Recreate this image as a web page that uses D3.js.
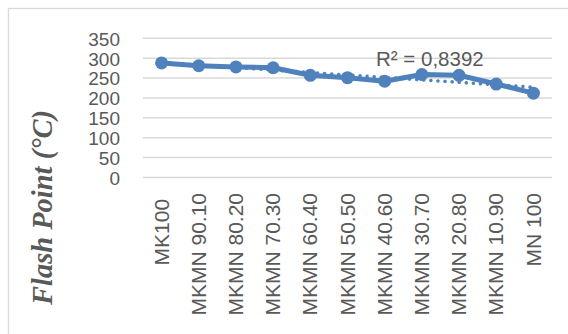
<!DOCTYPE html>
<html>
<head>
<meta charset="utf-8">
<script src="https://cdn.jsdelivr.net/npm/d3@7"></script>
<style>
  html, body { margin: 0; padding: 0; background: #fff; }
  svg { display: block; }
</style>
</head>
<body>
<svg id="chart" width="568" height="334"></svg>
<script>
// Flash point of MK/MN blends
const categories = ["MK100 ", "MKMN 90.10", "MKMN 80.20", "MKMN 70.30", "MKMN 60.40", "MKMN 50.50",
                    "MKMN 40.60", "MKMN 30.70", "MKMN 20.80", "MKMN 10.90", "MN 100"];
const flashPoint = [288, 281, 278, 276, 257, 251, 242, 259, 257, 235, 212];
const yTicks = [0, 50, 100, 150, 200, 250, 300, 350];
const trendLabel = "R² = 0,8392";
const yTitle = "Flash Point (°C)";

const svg = d3.select("#chart");
const grey = "#595959";
const blue = "#4F81BD";

// outer chart-area frame
svg.append("rect")
  .attr("x", 8.5).attr("y", 8.5)
  .attr("width", 580).attr("height", 340)
  .attr("fill", "none").attr("stroke", "#d9d9d9").attr("stroke-width", 1.3);

const plot = { left: 143, right: 552, top: 38.3, bottom: 177.5 };

const x = d3.scaleBand().domain(categories).range([plot.left, plot.right]).padding(0);
const y = d3.scaleLinear().domain([0, 350]).range([plot.bottom, plot.top]);
const cx = d => x(d) + x.bandwidth() / 2;

// horizontal gridlines
svg.append("g").selectAll("line").data(yTicks).join("line")
  .attr("x1", plot.left).attr("x2", plot.right)
  .attr("y1", d => y(d)).attr("y2", d => y(d))
  .attr("stroke", "#d9d9d9").attr("stroke-width", 1.5);

// y axis labels
const yAxis = d3.axisLeft(y).tickValues(yTicks).tickSize(0).tickPadding(0);
svg.append("g")
  .attr("transform", "translate(120,0)")
  .call(yAxis)
  .call(g => g.select(".domain").remove())
  .selectAll("text")
  .attr("fill", grey)
  .style("font-family", "'Liberation Sans', Arial, sans-serif")
  .style("font-size", "19px")
  .attr("dy", "0.36em");

// x axis labels, rotated
const xAxis = d3.axisBottom(x).tickSize(0).tickPadding(0);
svg.append("g")
  .attr("transform", `translate(0,193)`)
  .call(xAxis)
  .call(g => g.select(".domain").remove())
  .selectAll("text")
  .attr("fill", grey)
  .style("font-family", "'Liberation Sans', Arial, sans-serif")
  .style("font-size", "21px")
  .style("white-space", "pre")
  .attr("text-anchor", "end")
  .attr("transform", "rotate(-90)")
  .attr("x", 0).attr("y", 0)
  .attr("dx", 0).attr("dy", "0.34em");

// linear least-squares trend over category index
const n = flashPoint.length;
const idx = d3.range(n);
const mx = d3.mean(idx), my = d3.mean(flashPoint);
const slope = d3.sum(idx, i => (i - mx) * (flashPoint[i] - my)) / d3.sum(idx, i => (i - mx) ** 2);
const icpt = my - slope * mx;
const trend = [0, n - 1].map(i => ({ c: categories[i], v: icpt + slope * i }));

const line = d3.line().x(d => cx(d.c)).y(d => y(d.v));

svg.append("path")
  .datum(trend)
  .attr("d", line)
  .attr("fill", "none")
  .attr("stroke", blue)
  .attr("stroke-width", 3.5)
  .attr("stroke-linecap", "round")
  .attr("stroke-dasharray", "0.1 7");

// data series
const pts = categories.map((c, i) => ({ c, v: flashPoint[i] }));
svg.append("path")
  .datum(pts)
  .attr("d", line)
  .attr("fill", "none")
  .attr("stroke", blue)
  .attr("stroke-width", 5)
  .attr("stroke-linejoin", "round");

svg.append("g").selectAll("circle").data(pts).join("circle")
  .attr("cx", d => cx(d.c)).attr("cy", d => y(d.v))
  .attr("r", 6.5)
  .attr("fill", blue);

// trendline label
svg.append("text")
  .attr("x", 376).attr("y", 65.5)
  .attr("fill", grey)
  .style("font-family", "'Liberation Sans', Arial, sans-serif")
  .style("font-size", "20.5px")
  .text(trendLabel);

// y axis title
svg.append("text")
  .attr("transform", "translate(52,207.5) rotate(-90)")
  .attr("text-anchor", "middle")
  .attr("fill", grey)
  .style("font-family", "'Liberation Serif', 'Times New Roman', serif")
  .style("font-size", "28.5px")
  .style("font-weight", "bold")
  .style("font-style", "italic")
  .text(yTitle);
</script>
</body>
</html>
